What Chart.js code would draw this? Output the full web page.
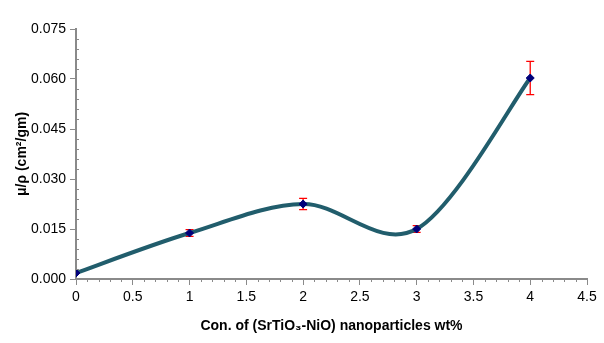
<!DOCTYPE html>
<html>
<head>
<meta charset="utf-8">
<script src="https://cdn.jsdelivr.net/npm/chart.js@4.4.0/dist/chart.umd.min.js"></script>
<style>
  html, body { margin: 0; padding: 0; background: #fff; }
  #wrap { width: 604px; height: 343px; }
</style>
</head>
<body>
<div id="wrap"><canvas id="attenuation"></canvas></div>
<script>
// data
var concentration = [0, 1, 2, 3, 4];
var muRho = [0.0018, 0.0138, 0.0225, 0.0150, 0.0603];
var muRhoError = [0.0, 0.0010, 0.0017, 0.0010, 0.0050];

var xTicks = [0, 0.5, 1, 1.5, 2, 2.5, 3, 3.5, 4, 4.5];
var yTicks = [0.000, 0.015, 0.030, 0.045, 0.060, 0.075];

var points = [];
for (var i = 0; i < concentration.length; i++) {
  points.push({x: concentration[i], y: muRho[i]});
}

var axisGrey = '#8a8a8a';

// excel style smoothing (catmull-rom) instead of chart.js spline
var excelSmooth = {
  id: 'excelSmooth',
  beforeDatasetDraw: function(chart, args) {
    var meta = args.meta;
    var pts = meta.data;
    var n = pts.length;
    for (var i = 0; i < n; i++) {
      var prev = pts[Math.max(i - 1, 0)];
      var next = pts[Math.min(i + 1, n - 1)];
      var dx = (next.x - prev.x) / 6;
      var dy = (next.y - prev.y) / 6;
      pts[i].cp1x = pts[i].x - dx;
      pts[i].cp1y = pts[i].y - dy;
      pts[i].cp2x = pts[i].x + dx;
      pts[i].cp2y = pts[i].y + dy;
    }
    meta.dataset._pointsUpdated = true;
    meta.dataset._path = undefined;
  }
};

// red error bars, drawn through the scales
var errorBars = {
  id: 'errorBars',
  beforeDatasetsDraw: function(chart) {
    var c = chart.ctx, xs = chart.scales.x, ys = chart.scales.y;
    c.save();
    c.strokeStyle = '#ff0000';
    c.lineWidth = 1.3;
    for (var i = 0; i < concentration.length; i++) {
      if (!muRhoError[i]) continue;
      var px = xs.getPixelForValue(concentration[i]);
      var top = ys.getPixelForValue(muRho[i] + muRhoError[i]);
      var bot = ys.getPixelForValue(muRho[i] - muRhoError[i]);
      c.beginPath();
      c.moveTo(px, top); c.lineTo(px, bot);
      c.moveTo(px - 4, top); c.lineTo(px + 4, top);
      c.moveTo(px - 4, bot); c.lineTo(px + 4, bot);
      c.stroke();
    }
    c.restore();
  }
};

// minor tick marks
var minorTicks = {
  id: 'minorTicks',
  afterDraw: function(chart) {
    var c = chart.ctx, xs = chart.scales.x, ys = chart.scales.y;
    var area = chart.chartArea;
    c.save();
    c.strokeStyle = axisGrey;
    c.lineWidth = 1;
    c.beginPath();
    for (var k = 1; k < 45; k++) {
      if (k % 5 === 0) continue;
      var px = Math.round(xs.getPixelForValue(k * 0.1)) + 0.5;
      c.moveTo(px, area.bottom); c.lineTo(px, area.bottom + 3);
    }
    for (var k = 1; k < 25; k++) {
      if (k % 5 === 0) continue;
      var py = Math.round(ys.getPixelForValue(k * 0.003)) + 0.5;
      c.moveTo(area.left - 1, py); c.lineTo(area.left + 3, py);
    }
    c.stroke();
    c.restore();
  }
};

new Chart(document.getElementById('attenuation'), {
  type: 'line',
  data: {
    datasets: [{
      data: points,
      borderColor: '#215d6c',
      borderWidth: 4,
      tension: 0.4,
      fill: false,
      pointStyle: 'rectRot',
      pointRadius: 4,
      pointBackgroundColor: '#00007a',
      pointBorderColor: '#00007a',
      pointBorderWidth: 1
    }]
  },
  options: {
    responsive: true,
    maintainAspectRatio: false,
    animation: false,
    layout: { padding: { top: 29, right: 17, left: 0, bottom: 0 } },
    plugins: { legend: { display: false }, tooltip: { enabled: false } },
    scales: {
      x: {
        type: 'linear',
        min: 0, max: 4.5,
        afterBuildTicks: function(scale) {
          scale.ticks = xTicks.map(function(v) { return {value: v}; });
        },
        afterFit: function(scale) { scale.height = 64; },
        ticks: {
          color: '#000',
          font: { family: 'Liberation Sans', size: 14 },
          padding: 4,
          maxRotation: 0,
          callback: function(v) { return String(v); }
        },
        grid: { drawOnChartArea: false, tickLength: 6, color: axisGrey, tickWidth: 1 },
        border: { color: axisGrey, width: 2 },
        title: {
          display: true,
          text: 'Con. of (SrTiO\u2083-NiO) nanoparticles wt%',
          color: '#000',
          font: { family: 'Liberation Sans', size: 14, weight: 'bold' },
          padding: { top: 0, bottom: 8 }
        }
      },
      y: {
        min: 0, max: 0.075,
        afterBuildTicks: function(scale) {
          scale.ticks = yTicks.map(function(v) { return {value: v}; });
        },
        afterFit: function(scale) { scale.width = 76; },
        ticks: {
          color: '#000',
          font: { family: 'Liberation Sans', size: 14 },
          padding: 4,
          callback: function(v) { return v.toFixed(3); }
        },
        grid: { drawOnChartArea: false, tickLength: 6, color: axisGrey, tickWidth: 1 },
        border: { color: axisGrey, width: 2 },
        title: {
          display: true,
          text: '\u03bc/\u03c1 (cm\u00b2/gm)',
          color: '#000',
          font: { family: 'Liberation Sans', size: 14, weight: 'bold' },
          padding: { top: 14, bottom: 0 }
        }
      }
    }
  },
  plugins: [excelSmooth, errorBars, minorTicks]
});
</script>
</body>
</html>
